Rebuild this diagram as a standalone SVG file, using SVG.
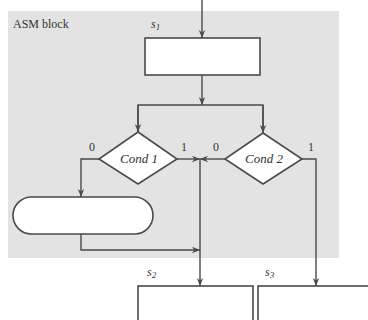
<svg xmlns="http://www.w3.org/2000/svg" width="368" height="320" viewBox="0 0 368 320">
<style>
.ln{fill:none;stroke:#4a4a4a;stroke-width:1.4}
.box{fill:#fff;stroke:#4a4a4a;stroke-width:1.6}
.t{font-family:"Liberation Serif",serif;font-size:12px;fill:#333}
.c{font-family:"Liberation Serif",serif;font-size:13px;font-style:italic;fill:#333;text-anchor:middle;dominant-baseline:central}
</style>
<defs>
<marker id="ar" viewBox="0 0 10 10" refX="10" refY="5" markerWidth="9" markerHeight="8" markerUnits="userSpaceOnUse" orient="auto">
<path d="M0,1 L10,5 L0,9 L3,5 Z" fill="#4a4a4a"/>
</marker>
</defs>
<rect x="8" y="11" width="331" height="247" fill="#e3e3e3"/>
<text class="t" x="13" y="28">ASM block</text>
<g id="connectors">
<line class="ln" x1="202" y1="0" x2="202" y2="38" marker-end="url(#ar)"/>
<line class="ln" x1="202" y1="75" x2="202" y2="105" marker-end="url(#ar)"/>
<polyline class="ln" points="138,132 138,105 263,105 263,132"/>
<line class="ln" x1="138" y1="105" x2="138" y2="132" marker-end="url(#ar)"/>
<line class="ln" x1="263" y1="105" x2="263" y2="133" marker-end="url(#ar)"/>
<polyline class="ln" points="99,159 81,159 81,197" marker-end="url(#ar)"/>
<polyline class="ln" points="81,234 81,250 200,250" marker-end="url(#ar)"/>
<line class="ln" x1="177" y1="159" x2="200" y2="159" marker-end="url(#ar)"/>
<line class="ln" x1="225" y1="159" x2="200" y2="159" marker-end="url(#ar)"/>
<line class="ln" x1="200" y1="159" x2="200" y2="286" marker-end="url(#ar)"/>
<polyline class="ln" points="302,159 316,159 316,286" marker-end="url(#ar)"/>
</g>
<g id="s1">
<rect class="box" x="145" y="38" width="115" height="37"/>
<text class="t" x="151" y="28" font-style="italic">s<tspan font-size="9" dy="2">1</tspan></text>
</g>
<g id="cond1">
<polygon class="box" points="138,132 177,159 138,184 99,159"/>
<text class="c" x="139" y="158">Cond 1</text>
<text class="t" x="89" y="151">0</text>
<text class="t" x="181" y="151">1</text>
</g>
<g id="cond2">
<polygon class="box" points="263,133 302,159 263,184 225,159"/>
<text class="c" x="264" y="158">Cond 2</text>
<text class="t" x="213" y="151">0</text>
<text class="t" x="308" y="151">1</text>
</g>
<g id="output">
<rect class="box" x="13" y="197" width="140" height="37" rx="18.5"/>
</g>
<g id="s2">
<rect class="box" x="138" y="286" width="115" height="50"/>
<text class="t" x="147" y="276" font-style="italic">s<tspan font-size="9" dy="2">2</tspan></text>
</g>
<g id="s3">
<rect class="box" x="258" y="286" width="120" height="50"/>
<text class="t" x="265" y="276" font-style="italic">s<tspan font-size="9" dy="2">3</tspan></text>
</g>
</svg>
